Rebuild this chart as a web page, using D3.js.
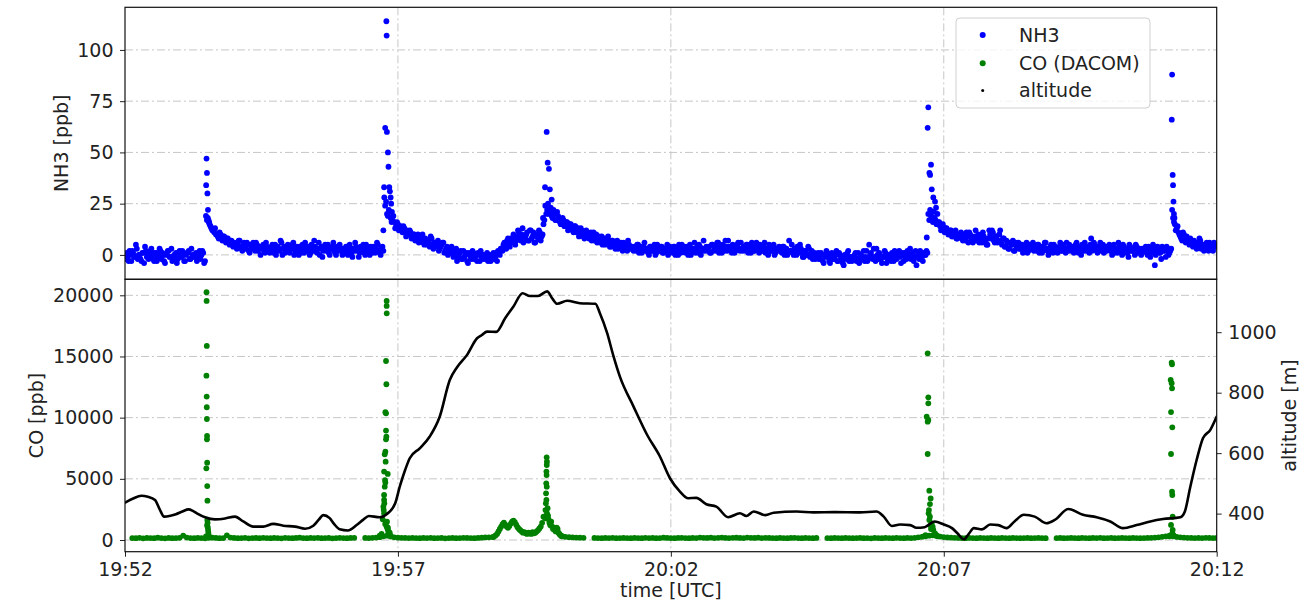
<!DOCTYPE html>
<html>
<head>
<meta charset="utf-8">
<script src="https://cdn.jsdelivr.net/npm/d3@7"></script>
<style>
  body { margin: 0; background: #fff; }
  svg text { font-family: "DejaVu Sans", sans-serif; fill: #222; }
</style>
</head>
<body>
<div id="chart"></div>
<script>
// ===========================
// NH3 / CO / altitude time series, 19:52 - 20:12 UTC
// Top: NH3 scatter. Bottom: CO scatter (left) + altitude (right axis)
// ===========================

// ── Data (time = seconds after 19:52:00) ───────────────────────────────────
const timeTickSec    = [0, 300, 600, 900, 1200];
const timeTickLabels = ['19:52', '19:57', '20:02', '20:07', '20:12'];
const nh3Ticks = [0, 25, 50, 75, 100];
const coTicks  = [0, 5000, 10000, 15000, 20000];
const altTicks = [400, 600, 800, 1000];

// NH3 [ppb], even seconds (0, 2, ... 1200 s)
const nh3Step = 2;
const nh3Even = [
  -2, 1, -3, 0, 2, -1, 5, -2, 0, -3, 1, 4, -1, -2, 2, 0, -3, 1, -1, 3,
  -2, 0, -4, 1, 2, -1, -3, 0, 1, -2, 2, -1, 0, -3, 1, 2, -2, 0, -1, 1,
  -1, 2, 0, 1, -3, 17, 16, 14, 12, 11, 10, 9, 11, 8, 9, 7, 8, 6, 7, 5,
  6, 4, 5, 7, 3, 5, 4, 6, 2, 5, 3, 4, 6, 2, 4, 3, 5, 1, 4, 3,
  2, 5, 3, 0, 4, 2, 6, 3, 1, 4, 2, 3, 5, 0, 3, 2, 4, 1, 3, 6,
  2, 4, 1, 3, 7, 2, 3, 0, 4, 2, 5, 3, 1, 3, 4, 2, 0, 3, 5, 2,
  3, 1, 4, 2, 3, -1, 2, 4, 3, 1, 2, 5, 0, 3, 2, 4, 1, 2, 3, 5,
  1, 3, 2, 24, 20, 22, 18, 17, 16, 14, 15, 13, 12, 14, 11, 12, 10, 11, 9, 10,
  8, 10, 7, 9, 6, 8, 5, 7, 9, 5, 6, 4, 7, 3, 5, 6, 2, 4, 3, 1,
  2, 0, 3, -1, 1, -2, 2, 0, -3, 1, -1, 2, -2, 0, 1, -3, -1, 0, -2, 1,
  -1, -3, 0, -2, 1, 2, 0, 3, 5, 4, 7, 5, 8, 6, 9, 7, 12, 8, 10, 6,
  9, 11, 7, 12, 9, 6, 10, 8, 11, 9, 15, 24, 22, 20, 23, 18, 20, 17, 19, 16,
  15, 17, 14, 16, 13, 15, 12, 14, 11, 13, 10, 12, 9, 11, 10, 8, 11, 9, 7, 10,
  8, 6, 9, 7, 5, 8, 6, 4, 7, 5, 6, 3, 5, 4, 6, 3, 2, 5, 4, 3,
  4, 2, 5, 3, 1, 4, 2, 3, 0, 4, 2, 5, 1, 3, 2, 4, 1, 3, 5, 2,
  3, 1, 4, 2, 0, 3, 5, 2, 1, 4, 3, 0, 2, 6, 3, 1, 4, 2, 7, 3,
  2, 4, 1, 5, 3, 2, 6, 4, 1, 3, 7, 2, 4, 3, 5, 1, 4, 6, 2, 3,
  4, 2, 5, 3, 1, 4, 2, 6, 3, 5, 2, 4, 1, 3, 5, 2, 4, 0, 3, 2,
  3, 1, 4, 2, 0, 7, 2, 1, 3, 0, 2, 5, 1, -1, 2, 0, 3, 1, -2, 1,
  -1, 1, -2, 0, -4, -1, 1, -3, 0, -2, -1, 2, -3, 0, -2, -5, -1, 1, -3, -1,
  -2, 0, -3, 1, -1, -2, 2, -1, -3, 5, 1, -2, -1, 3, -2, 0, -4, -1, 1, -2,
  0, -3, -1, 2, -2, 0, -1, 1, -3, -1, 2, 0, -2, 1, -1, -5, 0, 2, -1, 1,
  0, 1, 17, 19, 16, 18, 15, 16, 14, 13, 12, 13, 11, 10, 12, 9, 11, 8, 10, 9,
  8, 10, 7, 9, 11, 8, 6, 9, 7, 10, 8, 6, 9, 7, 5, 12, 8, 11, 6, 9,
  7, 12, 5, 8, 4, 6, 3, 5, 7, 2, 4, 6, 3, 5, 2, 4, 1, 5, 3, 6,
  4, 2, 5, 3, 1, 4, 6, 2, 3, 5, 1, 4, 2, 3, 6, 2, 4, 1, 3, 5,
  2, 4, 3, 6, 1, 3, 5, 2, 4, 3, 1, 8, 3, 5, 2, 4, 6, 3, 1, 4,
  3, 5, 2, 4, 1, 3, 6, 2, 0, 4, 3, 1, 5, 2, 3, 0, 4, 2, 1, 3,
  2, 4, 0, 3, 1, 5, -5, 2, 3, 1, 4, 2, -1, 3, 1, 3, 18, 15, 13, 11,
  9, 7, 10, 6, 8, 5, 7, 4, 6, 3, 5, 7, 4, 2, 5, 3, 6, 4, 2, 5,
  4
];

// NH3 [ppb], odd seconds (1, 3, ... 1199 s)
const nh3Odd = [
  0, -2, 2, -3, 1, -1, 3, 0, -2, 1, -4, 2, 0, -1, 3, -2, 1, -3, 0, 2,
  1, -3, 0, 2, -1, 3, -2, 0, -4, 1, -1, 2, -3, 0, 1, -2, 3, -1, 0, -3,
  0, -2, 2, -4, 19, 18, 15, 13, 12, 13, 10, 8, 10, 7, 9, 6, 8, 5, 7, 4,
  5, 3, 7, 4, 2, 6, 3, 5, 1, 4, 6, 2, 5, 3, 0, 4, 2, 6, 3, 1,
  4, 1, 5, 2, 3, 7, 0, 4, 2, 5, 1, 3, 6, 2, 4, 0, 3, 5, 1, 4,
  3, 0, 5, 2, 4, 1, 6, 3, -1, 4, 2, 5, 0, 3, 6, 1, 4, 2, 3, 0,
  2, 4, 0, 5, 1, 3, 6, 2, -1, 4, 3, 1, 5, 2, 0, 3, 4, 1, 6, 2,
  0, 4, 28, 26, 19, 21, 16, 19, 13, 16, 12, 14, 11, 13, 9, 11, 12, 8, 10, 7,
  9, 6, 8, 10, 5, 7, 6, 4, 8, 3, 6, 5, 2, 4, 6, 1, 3, 0, 2, 4,
  -1, 1, -3, 0, 2, -2, -1, 1, -4, 0, -2, 1, -1, -3, 0, 2, -2, -1, 0, -3,
  0, -2, 1, -1, -3, 1, 3, 2, 6, 3, 8, 4, 7, 10, 5, 9, 11, 7, 13, 8,
  10, 7, 12, 8, 11, 6, 9, 12, 7, 10, 17, 20, 25, 21, 19, 22, 17, 21, 18, 15,
  18, 14, 16, 12, 15, 13, 11, 14, 12, 9, 13, 11, 8, 12, 9, 10, 7, 11, 8, 6,
  9, 7, 5, 8, 6, 9, 4, 7, 5, 3, 7, 4, 6, 2, 5, 4, 7, 3, 4, 2,
  3, 5, 1, 4, 2, 6, 3, 1, 4, 2, 3, 0, 5, 2, 4, 1, 3, 2, 0, 4,
  2, 4, 0, 3, 5, 1, 3, 4, 2, 0, 5, 2, 3, 1, 4, 5, 0, 3, 2, 4,
  3, 1, 5, 2, 4, 6, 1, 3, 5, 2, 4, 7, 3, 1, 4, 2, 5, 3, 6, 2,
  3, 5, 1, 4, 6, 2, 3, 5, 1, 4, 2, 6, 3, 0, 4, 2, 5, 1, 3, 4,
  2, 4, 0, 3, 1, 2, 5, 0, 2, 4, 1, 3, -1, 2, 0, 4, -1, 2, 0, -2,
  0, -2, 1, -3, 0, 2, -1, -4, 1, -2, 0, -3, 1, -1, -4, 0, -2, 2, -1, -3,
  -1, 1, -2, -4, 0, -1, -3, 2, -2, 0, -1, 3, -3, 0, 1, -2, -1, 2, -4, 0,
  -2, 1, -3, 0, -1, 2, -4, 0, 1, -2, -1, 3, 0, -3, 2, -1, -2, 1, -3, 0,
  2, 20, 22, 18, 21, 17, 15, 16, 12, 15, 11, 13, 10, 12, 9, 10, 12, 8, 9, 11,
  7, 9, 11, 6, 10, 8, 7, 12, 8, 6, 9, 11, 7, 5, 8, 10, 12, 7, 9, 6,
  10, 6, 8, 4, 7, 3, 6, 5, 2, 6, 4, 3, 5, 1, 4, 6, 2, 3, 5, 2,
  3, 5, 1, 4, 2, 6, 3, 0, 4, 2, 5, 3, 1, 4, 2, 5, 3, 6, 2, 4,
  3, 1, 5, 2, 4, 0, 3, 6, 2, 4, 5, 2, 6, 3, 1, 4, 2, 5, 3, 2,
  4, 2, 0, 5, 3, 1, 4, 2, 5, 1, 3, -1, 4, 2, 3, 5, 1, 3, 0, 2,
  3, 1, 4, -1, 2, 3, 0, 4, 1, -2, 3, 2, 4, 0, 2, 22, 16, 12, 14, 10,
  8, 11, 7, 9, 6, 8, 5, 7, 4, 6, 8, 3, 5, 4, 6, 2, 5, 3, 6, 4
];

// NH3 plume peaks (sampled faster than 1 s)
const nh3PeakTime = [
  89.2, 89.6, 90.1, 90.6, 91.2, 91.8, 92.4,
  284, 284.8, 286, 287.3, 287.6, 287.9, 289, 289.6, 290.5, 291.2, 292, 292.6, 293.4,
  459.5, 461.7, 463.5, 464.6, 466, 467, 469,
  881.3, 882.3, 883, 884.2, 885, 886, 886.8, 888.5, 890.4, 891.5, 893,
  1150.6, 1151, 1151.6, 1152, 1152.5, 1153, 1153.6
];
const nh3PeakValue = [
  34, 47, 40, 30, 22, 17, 16,
  12, 33, 62, 114, 107, 60, 50, 43, 33, 31, 28, 25, 21,
  18, 33, 60, 45, 42, 32, 27,
  8.5, 62, 72, 40, 39, 44, 32, 28, 26, 23, 20,
  66, 88, 39, 34, 26, 20, 18
];

// CO [ppb] background, one value every 4 s (null = no data)
const coStep = 4;
const coBase = [
  null, null, 160, 150, 180, 140, 170, 160, 150, 190, 160, 140, 170, 150, 160, 180, 350, 200, 160, 150,
  170, 160, 140, 180, 190, 170, 150, 160, 380, 200, 170, 150, 160, 180, 140, 160, 170, 150, 180, 160,
  150, 170, 160, 140, 180, 160, 150, 170, 190, 160, 150, 170, 160, 180, 150, 160, 170, 140, 160, 180,
  160, 150, 170, 180, null, null, 170, 160, 180, 200, 230, 300, 350, 280, 220, 190, 180, 170, 160, 170,
  160, 150, 170, 160, 180, 150, 160, 170, 140, 160, 170, 150, 160, 180, 170, 160, 150, 170, 190, 210,
  220, 240, null, null, null, null, null, null, null, null, null, null, null, null, null, null, null, null, null, null,
  300, 260, 230, 210, 200, 190, 180, null, null, 170, 160, 150, 170, 160, 180, 150, 160, 170, 160, 150,
  170, 160, 150, 180, 160, 170, 150, 160, 190, 170, 160, 150, 170, 180, 160, 150, 170, 160, 200, 180,
  170, 190, 160, 180, 200, 170, 160, 180, 190, 170, 160, 200, 180, 170, 190, 160, 180, 170, 160, 150,
  170, 160, 150, 170, 180, 160, 150, 170, 160, 150, 170, null, null, 160, 150, 170, 160, 150, 170, 160,
  150, 160, 170, 150, 160, 140, 170, 160, 150, 170, 160, 150, 180, 160, 150, 170, 160, 180, 220, 260,
  300, 350, 380, 320, 280, 240, 210, 190, 180, 170, 160, 150, 170, 160, 150, 170, 160, 150, 170, 160,
  150, 170, 160, 150, 170, 160, 150, 160, 170, 150, 160, 170, 160, 150, null, null, 160, 170, 150, 160,
  170, 160, 150, 170, 160, 150, 170, 160, 180, 150, 160, 170, 150, 160, 170, 160, 150, 170, 160, 150,
  160, 170, 180, 200, 220, 260, 300, 350, 300, 250, 220, 200, 180, 170, 160, 170, 160, 180, 170, 160,
  170
];

// CO plume samples (fast response during plume crossings)
const coPlumeTime = [
  // 19:53:30
  89.6, 89.7, 89.9, 89.5, 89.8, 89.9, 90.0, 90.2, 90.1, 90.3, 89.4, 90.4, 90.6, 90.5, 90.8, 90.2, 91, 91.3, 91.6, 92, 89,
  // 19:56:45
  287.6, 287.6, 287.7, 286.9, 287.3, 286.2, 286.9, 286.9, 287.3, 286.9, 286.2, 285.5, 286.5, 284.8, 288.8, 285.8, 286.2,
  285.5, 284.8, 284.8, 285.1, 284.0, 284.4, 284.8, 283.3, 287.6, 288.8, 289.5, 290.5, 282, 280, 286, 288, 289, 291, 292,
  // 19:58:50 broad enhancement + 19:59:45 spike
  405, 407, 409, 410.5, 412, 413.5, 415, 416.5, 418, 419.5, 421, 422.5, 424, 425.5, 427, 428.5, 430, 431.5, 433, 434.5,
  436, 437.5, 439, 440.5, 442, 443.5, 445, 446.5, 448, 449.5, 451, 452.5, 454, 455.5, 457, 458.5, 460,
  463.5, 463.8, 463.6, 463.2, 463.4, 463, 463.6, 462.8, 463.2, 462.6, 462.2, 463.9, 462, 464.5, 465, 465.5, 466.5, 467.5,
  468.5, 469.5, 470.5, 471.5, 472.5, 473.5, 474.5, 475.5, 476.5, 477.5, 478.5, 479.5, 481,
  // 20:06:40
  882.3, 883, 883, 881.2, 883, 882.3, 882.3, 884.1, 885.6, 884.8, 883.7, 883.3, 884.8, 884.1, 886.7, 887.8, 888.5, 890.4,
  880, 878, 892, 894, 885.5, 886,
  // 20:11:10
  1150.5, 1150.9, 1149.4, 1150.5, 1150.9, 1149.8, 1151.2, 1149.8, 1150.9, 1151.2, 1151.6, 1149.8, 1151.6, 1151.2, 1152.5, 1148
];
const coPlumeValue = [
  20250, 19540, 15860, 13430, 11720, 10850, 9890, 8500, 8230, 6320, 5860, 4410, 3215, 1630, 1400, 1200, 1050, 820, 600, 400, 300,
  19540, 19130, 18530, 14630, 12730, 10440, 10350, 8940, 8450, 8230, 7220, 7000, 6400, 5590, 5400, 4900, 4700,
  4360, 3680, 3270, 3000, 2725, 2450, 2180, 1690, 1090, 870, 680, 410, 500, 350, 1300, 1500, 1000, 600, 350,
  250, 350, 500, 700, 900, 1100, 1300, 1420, 1250, 1100, 1000, 1150, 1350, 1500, 1580, 1450, 1250, 1050, 900, 800,
  700, 600, 650, 550, 500, 600, 550, 500, 650, 550, 600, 700, 800, 950, 1100, 1400, 1900,
  6760, 6400, 6130, 5590, 5310, 4630, 4360, 3815, 3270, 3000, 2450, 2180, 1770, 2600, 2000, 1700, 1400, 1200,
  1500, 1100, 900, 1000, 800, 700, 1000, 900, 600, 500, 400, 350, 300,
  15260, 11660, 11170, 10080, 9810, 9670, 7030, 4030, 3400, 2940, 2450, 2180, 1900, 1635, 1360, 1090, 820, 545,
  400, 300, 400, 300, 1200, 900,
  14500, 14360, 13080, 12810, 12400, 10460, 9210, 7030, 3950, 3680, 1900, 1230, 820, 545, 400, 300
];

// Aircraft altitude [m]
const altTime = [
  0, 9, 18, 25, 33, 38, 43, 50, 56, 63, 70, 75, 79, 88, 99, 110, 121, 130, 141, 152,
  163, 174, 187, 198, 207, 213, 218, 225, 230, 236, 245, 255, 262, 268, 280, 288, 297, 302, 308, 313,
  324, 335, 346, 357, 365, 376, 387, 392, 398, 408, 418, 427, 437, 445, 454, 464, 470, 475, 486, 500,
  517, 522, 530, 537, 544, 559, 574, 588, 599, 610, 619, 628, 639, 650, 663, 676, 683, 691, 704, 713,
  738, 757, 780, 808, 826, 834, 843, 852, 863, 870, 879, 890, 900, 909, 915, 922, 928, 933, 942, 951,
  960, 969, 978, 988, 1000, 1013, 1022, 1037, 1053, 1068, 1083, 1097, 1112, 1127, 1141, 1160, 1165, 1171, 1178, 1185,
  1193, 1200
];
const altValue = [
  436, 450, 459, 456, 445, 415, 390, 393, 398, 407, 414, 408, 401, 388, 381, 384, 390, 374, 357, 357,
  366, 360, 357, 350, 360, 380, 395, 385, 365, 348, 344, 363, 380, 392, 388, 399, 434, 489, 545, 583,
  616, 655, 721, 842, 884, 925, 980, 990, 1002, 1001, 1047, 1085, 1129, 1120, 1120, 1135, 1110, 1094, 1104, 1096,
  1094, 1063, 997, 920, 853, 754, 660, 589, 517, 473, 451, 452, 431, 423, 388, 401, 392, 407, 395, 403,
  407, 404, 405, 404, 407, 390, 359, 364, 362, 353, 355, 374, 364, 352, 335, 315, 335, 352, 348, 364,
  362, 352, 375, 396, 390, 368, 379, 415, 396, 388, 374, 352, 362, 374, 382, 388, 407, 489, 578, 650,
  677, 721
];

// ── Layout ─────────────────────────────────────────────────────────────────
const width = 1309, height = 604;
const plotL = 125, plotR = 1216.7;
const topY0 = 7.3, midY = 279.3, botY1 = 551.7;
const colors = { nh3: '#0000ff', co: '#008000', alt: '#000000', grid: '#c6c6c6' };
const fontSize = 19;

// ── Scales ─────────────────────────────────────────────────────────────────
const x = d3.scaleLinear().domain([0, 1200]).range([plotL, plotR]);
const yNh3 = d3.scaleLinear().domain([-11.9, 120.8]).range([midY, topY0]);
const yCo  = d3.scaleLinear().domain([-956, 21308]).range([botY1, midY]);
const yAlt = d3.scaleLinear().domain([274, 1175]).range([botY1, midY]);

// ── Build point lists from the arrays ─────────────────────────────────────
const nh3Points = nh3Even.map((v, i) => ({ t: i * nh3Step, v }))
  .concat(nh3Odd.map((v, i) => ({ t: i * nh3Step + 1, v })))
  .concat(nh3PeakTime.map((t, i) => ({ t, v: nh3PeakValue[i] })));
const coPoints = coBase.map((v, i) => ({ t: i * coStep, v }))
  .filter(d => d.v !== null)
  .concat(coPlumeTime.map((t, i) => ({ t, v: coPlumeValue[i] })));
const altPoints = altTime.map((t, i) => ({ t, v: altValue[i] }));

// ── SVG ────────────────────────────────────────────────────────────────────
const svg = d3.select('#chart').append('svg')
  .attr('width', width).attr('height', height);

const defs = svg.append('defs');
defs.append('clipPath').attr('id', 'clip-top').append('rect')
  .attr('x', plotL).attr('y', topY0).attr('width', plotR - plotL).attr('height', midY - topY0);
defs.append('clipPath').attr('id', 'clip-bot').append('rect')
  .attr('x', plotL).attr('y', midY).attr('width', plotR - plotL).attr('height', botY1 - midY);

// ── Grids ──────────────────────────────────────────────────────────────────
function drawGrid(yScale, ticks, y0, y1) {
  const g = svg.append('g').attr('stroke', colors.grid).attr('stroke-width', 1)
    .attr('stroke-dasharray', '8,3,2,3').attr('fill', 'none');
  g.selectAll('.hg').data(ticks).join('line')
    .attr('x1', plotL).attr('x2', plotR)
    .attr('y1', d => yScale(d)).attr('y2', d => yScale(d));
  g.selectAll('.vg').data(timeTickSec.slice(1, -1)).join('line')
    .attr('x1', d => x(d)).attr('x2', d => x(d))
    .attr('y1', y0).attr('y2', y1);
}
drawGrid(yNh3, nh3Ticks, topY0, midY);
drawGrid(yCo, coTicks, midY, botY1);

// ── NH3 scatter ────────────────────────────────────────────────────────────
svg.append('g').attr('clip-path', 'url(#clip-top)')
  .selectAll('circle').data(nh3Points).join('circle')
  .attr('cx', d => x(d.t)).attr('cy', d => yNh3(d.v))
  .attr('r', 2.9).attr('fill', colors.nh3);

// ── CO scatter ─────────────────────────────────────────────────────────────
svg.append('g').attr('clip-path', 'url(#clip-bot)')
  .selectAll('circle').data(coPoints).join('circle')
  .attr('cx', d => x(d.t)).attr('cy', d => yCo(d.v))
  .attr('r', 2.9).attr('fill', colors.co);

// ── Altitude (twin axis) ───────────────────────────────────────────────────
const altLine = d3.line().x(d => x(d.t)).y(d => yAlt(d.v)).curve(d3.curveMonotoneX);
svg.append('path').attr('clip-path', 'url(#clip-bot)')
  .datum(altPoints)
  .attr('d', altLine)
  .attr('fill', 'none').attr('stroke', colors.alt)
  .attr('stroke-width', 2.6).attr('stroke-linejoin', 'round').attr('stroke-linecap', 'round');

// ── Axes ───────────────────────────────────────────────────────────────────
function styleAxis(g) {
  g.select('.domain').remove();
  g.selectAll('.tick line').attr('stroke', '#222').attr('stroke-width', 1);
  g.selectAll('.tick text').style('font-size', fontSize + 'px').attr('fill', '#222');
}

svg.append('g').attr('transform', 'translate(' + plotL + ',0)')
  .call(d3.axisLeft(yNh3).tickValues(nh3Ticks).tickSize(5).tickPadding(6.5).tickFormat(d3.format('d')))
  .call(styleAxis);

svg.append('g').attr('transform', 'translate(' + plotL + ',0)')
  .call(d3.axisLeft(yCo).tickValues(coTicks).tickSize(5).tickPadding(6.5).tickFormat(d3.format('d')))
  .call(styleAxis);

svg.append('g').attr('transform', 'translate(' + plotR + ',0)')
  .call(d3.axisRight(yAlt).tickValues(altTicks).tickSize(5).tickPadding(6.5).tickFormat(d3.format('d')))
  .call(styleAxis);

svg.append('g').attr('transform', 'translate(0,' + botY1 + ')')
  .call(d3.axisBottom(x).tickValues(timeTickSec).tickSize(5).tickPadding(6)
    .tickFormat((d, i) => timeTickLabels[i]))
  .call(styleAxis);

// Spines
[[topY0, midY], [midY, botY1]].forEach(([a, b]) => {
  svg.append('rect')
    .attr('x', plotL).attr('y', a).attr('width', plotR - plotL).attr('height', b - a)
    .attr('fill', 'none').attr('stroke', '#111').attr('stroke-width', 1.2);
});

// Axis titles
svg.append('text')
  .attr('transform', 'translate(68,' + ((topY0 + midY) / 2) + ') rotate(-90)')
  .attr('text-anchor', 'middle').style('font-size', fontSize + 'px')
  .text('NH3 [ppb]');
svg.append('text')
  .attr('transform', 'translate(43,' + ((midY + botY1) / 2) + ') rotate(-90)')
  .attr('text-anchor', 'middle').style('font-size', fontSize + 'px')
  .text('CO [ppb]');
svg.append('text')
  .attr('transform', 'translate(1296,' + ((midY + botY1) / 2) + ') rotate(-90)')
  .attr('text-anchor', 'middle').style('font-size', fontSize + 'px')
  .text('altitude [m]');
svg.append('text')
  .attr('x', (plotL + plotR) / 2).attr('y', 597)
  .attr('text-anchor', 'middle').style('font-size', fontSize + 'px')
  .text('time [UTC]');

// ── Legend ─────────────────────────────────────────────────────────────────
const legend = svg.append('g');
legend.append('rect')
  .attr('x', 956).attr('y', 18).attr('width', 194).attr('height', 90).attr('rx', 4)
  .attr('fill', '#fff').attr('fill-opacity', 0.8)
  .attr('stroke', '#d0d0d0').attr('stroke-width', 1);
[
  { label: 'NH3',         color: colors.nh3, r: 3,   y: 35 },
  { label: 'CO (DACOM)',  color: colors.co,  r: 3,   y: 63.3 },
  { label: 'altitude',    color: colors.alt, r: 1.5, y: 90.5 }
].forEach(item => {
  legend.append('circle').attr('cx', 982.7).attr('cy', item.y).attr('r', item.r).attr('fill', item.color);
  legend.append('text').attr('x', 1019).attr('y', item.y).attr('dy', '0.36em')
    .style('font-size', fontSize + 'px').text(item.label);
});
</script>
</body>
</html>
